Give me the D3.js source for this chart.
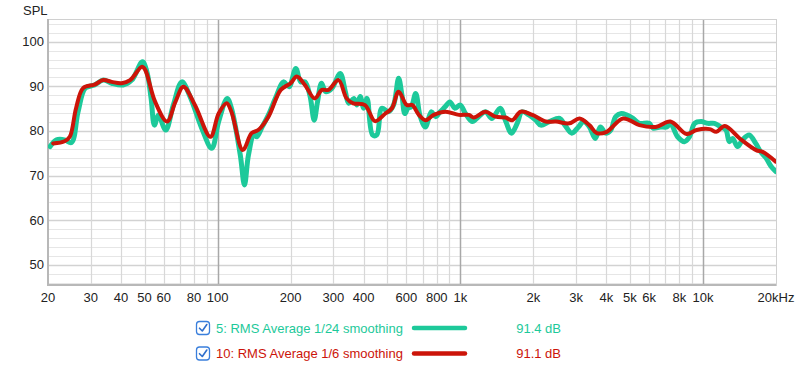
<!DOCTYPE html>
<html>
<head>
<meta charset="utf-8">
<script src="https://cdn.jsdelivr.net/npm/d3@7"></script>
<style>
  html, body { margin: 0; padding: 0; background: #fff; }
  svg { display: block; }
</style>
</head>
<body>
<div id="container"></div>
<script>
// SPL frequency response — two smoothing levels on a log frequency axis

// ---------------------------------------------------------------------------
// Data
// ---------------------------------------------------------------------------
const freq24 = [20.4, 21.7, 23.4, 25, 26.6, 28.5, 31.1, 33.8, 36.6, 40.8, 44.3, 49.0, 51.1, 53.2, 54.9, 57.0,
  61.1, 65.7, 71.2, 77, 86, 94.6, 101, 109.5, 114, 124, 129, 134, 141, 145, 152.6, 162, 173, 187, 197, 210,
  220, 229, 240, 250, 258, 268, 279, 296, 320, 336, 347, 364, 375, 387, 400, 413, 435, 453, 475, 506, 531,
  557, 575, 591, 609, 628, 655, 684, 718, 760, 792, 826, 866, 906, 950, 1000, 1050, 1120, 1190, 1270, 1350,
  1460, 1540, 1626, 1716, 1798, 1918, 2047, 2147, 2330, 2570, 2697, 2880, 3070, 3220, 3405, 3600, 3780,
  3970, 4170, 4370, 4610, 4840, 5150, 5470, 6000, 6230, 6670, 7100, 7340, 7860, 8390, 8810, 9240, 9830,
  10470, 11150, 11860, 12440, 12840, 13250, 13890, 14560, 15500, 16500, 17300, 18200, 19100, 19950];
const spl24 = [76.5, 78.0, 78.0, 77.4, 84.3, 89.6, 90.3, 91.4, 90.7, 90.3, 91.4, 95.5, 93.3, 87.3, 81.3, 83.6,
  80.2, 85.8, 91.0, 87.7, 80.6, 76.1, 82.1, 87.3, 85.1, 74.6, 67.9, 74.6, 79.1, 78.7, 80.9, 83.6, 87.3, 91.0,
  89.9, 94.0, 91.0, 91.0, 88.0, 82.4, 86.5, 90.7, 88.8, 89.6, 92.9, 88.8, 86.2, 87.3, 85.8, 87.7, 85.1, 87.3,
  79.1, 79.1, 85.1, 84.3, 85.8, 91.8, 88.0, 83.9, 85.1, 85.4, 88.4, 83.2, 80.9, 84.3, 83.2, 84.3, 85.4, 86.5,
  85.1, 85.8, 83.9, 82.1, 83.2, 84.3, 82.8, 85.1, 82.1, 79.5, 81.7, 84.3, 83.6, 82.4, 81.3, 82.1, 82.8, 81.3,
  79.5, 80.9, 82.1, 80.9, 78.3, 80.9, 79.5, 80.2, 83.2, 83.9, 83.6, 82.8, 81.7, 81.7, 80.6, 80.9, 80.9, 81.7,
  78.7, 77.6, 78.7, 81.7, 82.1, 81.7, 81.7, 80.9, 80.2, 77.6, 78.3, 76.5, 78.0, 79.1, 77.2, 75.3, 73.9, 72.0,
  70.9];

const freq6 = [21.0, 23.4, 24.6, 26.1, 27.9, 31.1, 33.8, 36.6, 40.2, 43.6, 48.8, 50.3, 55.3, 61.9, 67.0, 72.3,
  80.6, 93.4, 101, 109, 114, 127, 138, 147, 162, 182, 200, 212, 229, 251, 269, 286, 315, 340, 362, 405, 445,
  491, 523, 557, 602, 634, 675, 718, 777, 870, 987, 1085, 1137, 1270, 1397, 1537, 1636, 1774, 1983, 2252,
  2479, 2815, 3098, 3405, 3652, 4013, 4686, 5471, 6388, 7342, 8572, 9412, 10660, 11350, 12310, 14180, 16560,
  17610, 19950];
const spl6 = [77.2, 77.7, 78.7, 85.1, 89.6, 90.4, 91.4, 91.0, 90.7, 91.4, 94.4, 93.7, 86.5, 82.1, 86.5, 89.9,
  85.8, 78.7, 83.9, 86.2, 84.3, 75.7, 79.5, 80.2, 83.2, 89.2, 90.7, 92.2, 90.3, 87.3, 89.2, 89.2, 91.4, 87.3,
  86.2, 85.8, 82.2, 83.9, 85.1, 88.8, 85.8, 85.8, 83.6, 82.4, 83.6, 84.3, 83.6, 83.6, 83.0, 84.3, 83.2, 83.0,
  82.4, 84.3, 83.6, 82.1, 82.1, 81.7, 82.8, 81.3, 79.5, 79.8, 82.8, 81.3, 80.9, 82.1, 79.3, 80.2, 80.4, 79.8,
  81.1, 78.3, 75.7, 75.3, 73.1];

const xTickValues = [20, 30, 40, 50, 60, 80, 100, 200, 300, 400, 600, 800, 1000, 2000, 3000, 4000, 5000, 6000, 8000, 10000, 20000];
const xTickLabels = ['20', '30', '40', '50', '60', '80', '100', '200', '300', '400', '600', '800', '1k', '2k', '3k', '4k', '5k', '6k', '8k', '10k', '20kHz'];
const yTicks = [50, 60, 70, 80, 90, 100];

const seriesNames = ['5: RMS Average 1/24 smoothing', '10: RMS Average 1/6 smoothing'];
const seriesLevels = ['91.4 dB', '91.1 dB'];

// ---------------------------------------------------------------------------
// Layout
// ---------------------------------------------------------------------------
const W = 800, H = 368;
const plot = { left: 48, right: 776, top: 19, bottom: 285 };
const GREEN = '#1dc99a';
const RED = '#cc1409';
const FONT = 'Liberation Sans, Arial, Helvetica, sans-serif';

const svg = d3.select('#container').append('svg')
  .attr('width', W).attr('height', H);

const x = d3.scaleLog().domain([20, 20000]).range([plot.left, plot.right]);
const y = d3.scaleLinear().domain([45.45, 105.1]).range([plot.bottom, plot.top]);

// ── grid ────────────────────────────────────────────────────────────────
const grid = svg.append('g');

// horizontal lines every 2 dB, darker every 10 dB
d3.range(46, 106, 2).forEach(v => {
  const major = v % 10 === 0;
  grid.append('line')
    .attr('x1', plot.left).attr('x2', plot.right)
    .attr('y1', Math.round(y(v)) + 0.5).attr('y2', Math.round(y(v)) + 0.5)
    .attr('stroke', major ? '#d2d2d2' : '#e6e6e6')
    .attr('stroke-width', major ? 1.5 : 1);
});

// vertical lines at 1..9 per decade, darker at decades
const vLines = [];
[10, 100, 1000, 10000].forEach(d => {
  for (let k = 1; k <= 9; k++) {
    const f = d * k;
    if (f > 20 && f < 20000) vLines.push(f);
  }
});
vLines.forEach(f => {
  const decade = Math.abs(Math.log10(f) - Math.round(Math.log10(f))) < 1e-9;
  grid.append('line')
    .attr('x1', Math.round(x(f)) + 0.5).attr('x2', Math.round(x(f)) + 0.5)
    .attr('y1', plot.top).attr('y2', plot.bottom)
    .attr('stroke', decade ? '#a8a8a8' : '#d8d8d8')
    .attr('stroke-width', decade ? 1.5 : 1.2);
});

// frame
svg.append('rect')
  .attr('x', plot.left + 0.5).attr('y', plot.top + 0.5)
  .attr('width', plot.right - plot.left).attr('height', plot.bottom - plot.top)
  .attr('fill', 'none').attr('stroke', '#d0d0d0');
svg.append('path')
  .attr('d', `M${plot.left},${plot.top} V${plot.bottom} H${plot.right}`)
  .attr('fill', 'none').attr('stroke', '#b8b8b8').attr('stroke-width', 2);

// ── axes labels ─────────────────────────────────────────────────────────
svg.append('g').selectAll('text').data(yTicks).join('text')
  .attr('x', 44).attr('y', d => y(d))
  .attr('dy', '0.35em')
  .attr('text-anchor', 'end')
  .attr('font-family', FONT).attr('font-size', 13).attr('fill', '#222')
  .text(d => d);

svg.append('text')
  .attr('x', 23).attr('y', 15)
  .attr('font-family', FONT).attr('font-size', 13).attr('fill', '#222')
  .text('SPL');

svg.append('g').selectAll('text').data(xTickValues).join('text')
  .attr('x', d => x(d)).attr('y', 302)
  .attr('text-anchor', 'middle')
  .attr('font-family', FONT).attr('font-size', 13).attr('fill', '#222')
  .text((d, i) => xTickLabels[i]);

// ── curves ──────────────────────────────────────────────────────────────
const line = d3.line()
  .x(d => x(d[0]))
  .y(d => y(d[1]))
  .curve(d3.curveCatmullRom.alpha(0.5));

const clip = svg.append('clipPath').attr('id', 'plotClip')
  .append('rect')
  .attr('x', plot.left).attr('y', plot.top)
  .attr('width', plot.right - plot.left).attr('height', plot.bottom - plot.top);

const curves = svg.append('g').attr('clip-path', 'url(#plotClip)');

curves.append('path')
  .attr('d', line(d3.zip(freq24, spl24)))
  .attr('fill', 'none').attr('stroke', GREEN)
  .attr('stroke-width', 5).attr('stroke-linejoin', 'round').attr('stroke-linecap', 'round');

curves.append('path')
  .attr('d', line(d3.zip(freq6, spl6)))
  .attr('fill', 'none').attr('stroke', RED)
  .attr('stroke-width', 4).attr('stroke-linejoin', 'round').attr('stroke-linecap', 'round');

// ── legend ──────────────────────────────────────────────────────────────
const legend = svg.append('g');
[GREEN, RED].forEach((color, i) => {
  const cy = 328 + i * 25.5;
  const g = legend.append('g');
  g.append('rect')
    .attr('x', 196.5).attr('y', cy - 6.5).attr('width', 13).attr('height', 13).attr('rx', 3)
    .attr('fill', '#fff').attr('stroke', '#3a7fdc').attr('stroke-width', 1.3);
  g.append('path')
    .attr('d', `M199.5,${cy + 0.2} L202.3,${cy + 3} L206.8,${cy - 3.5}`)
    .attr('fill', 'none').attr('stroke', '#2f6fcc').attr('stroke-width', 1.6)
    .attr('stroke-linecap', 'round').attr('stroke-linejoin', 'round');
  g.append('text')
    .attr('x', 216).attr('y', cy).attr('dy', '0.35em')
    .attr('font-family', FONT).attr('font-size', 13).attr('fill', color)
    .text(seriesNames[i]);
  g.append('line')
    .attr('x1', 414).attr('x2', 465).attr('y1', cy).attr('y2', cy)
    .attr('stroke', color).attr('stroke-width', 4.5).attr('stroke-linecap', 'round');
  g.append('text')
    .attr('x', 561).attr('y', cy).attr('dy', '0.35em')
    .attr('text-anchor', 'end')
    .attr('font-family', FONT).attr('font-size', 13).attr('fill', color)
    .text(seriesLevels[i]);
});
</script>
</body>
</html>
